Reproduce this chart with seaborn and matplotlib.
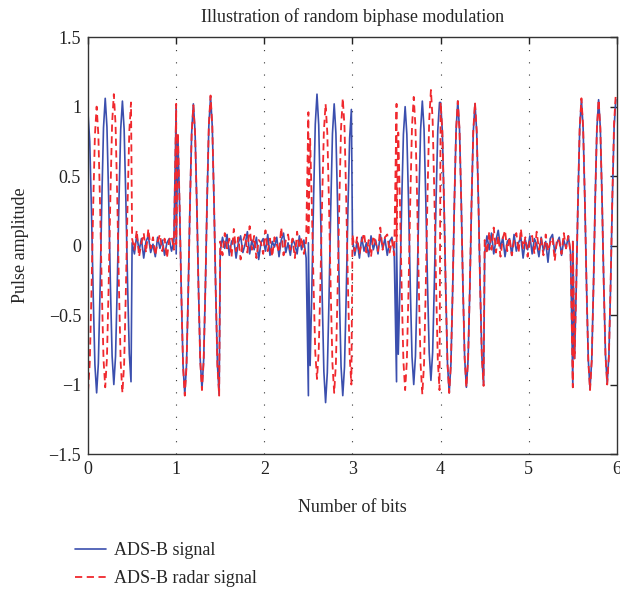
import numpy as np
import pandas as pd
import seaborn as sns
import matplotlib.pyplot as plt

pulse_starts = [0.0, 1.0, 2.5, 3.5, 4.0, 5.5]
noise_spans = [(0.5, 1.0), (1.5, 2.5), (3.0, 3.5), (4.5, 5.5)]

blue_pulse_1 = [0.95, -1.06, 1.06, -1.00, 1.04, -0.98]
blue_pulse_2 = [1.00, -1.07, 1.02, -1.03, 1.07, -1.07]
blue_pulse_3 = [-1.08, 1.09, -1.13, 1.02, -1.08, 0.98]
blue_pulse_4 = [-0.98, 1.00, -1.00, 1.04, -0.97, 1.03]
blue_pulse_5 = [1.03, -1.06, 1.04, -1.02, 1.02, -1.00]
blue_pulse_6 = [-1.02, 1.05, -1.03, 1.05, -0.99, 1.05]

red_pulse_1 = [-1.05, 1.00, -1.02, 1.09, -1.06, 1.03]
red_pulse_2 = [1.02, -1.08, 1.01, -1.04, 1.08, -1.08]
red_pulse_3 = [0.96, -0.96, 1.02, -1.06, 1.06, -1.00]
red_pulse_4 = [1.02, -1.04, 1.07, -1.07, 1.12, -1.04]
red_pulse_5 = [1.03, -1.06, 1.04, -1.02, 1.03, -1.01]
red_pulse_6 = [-1.02, 1.06, -1.04, 1.05, -1.00, 1.09]

# shape of one half-cycle of the carrier, peak (1) to trough (-1), as seen in the plot
carrier_shape = [1.0, 0.8, 0.3, -0.3, -0.8, -1.0]

# noise floor between pulses (estimated)
blue_noise_a = [0.02, -0.06, 0.08, -0.04, 0.05, -0.09, 0.03, 0.07, -0.05, 0.01,
                -0.08, 0.06, -0.02, 0.04, -0.07, 0.02, 0.05, -0.04, 0.03, -0.06]
blue_noise_b = [-0.04, 0.06, -0.02, 0.08, -0.07, 0.03, 0.05, -0.09, 0.02, 0.07,
                -0.05, 0.01, 0.10, -0.06, 0.04, -0.03, 0.06, -0.10, 0.02, 0.05,
                -0.04, 0.08, -0.07, 0.03, -0.01, 0.06, -0.08, 0.04, 0.09, -0.05,
                0.02, -0.07, 0.05, 0.01, -0.06, 0.07, -0.03, 0.04, -0.09, 0.02]
blue_noise_c = [0.05, -0.07, 0.03, -0.09, 0.06, -0.04, 0.02, -0.08, 0.07, -0.03,
                0.04, -0.06, 0.08, -0.02, 0.05, -0.07, 0.03, 0.06, -0.05, 0.02]
blue_noise_d = [-0.05, 0.07, -0.03, 0.09, -0.06, 0.04, 0.11, -0.02, 0.06, -0.08,
                0.03, 0.05, -0.07, 0.08, -0.04, 0.02, 0.06, -0.09, 0.04, -0.03,
                0.07, -0.06, 0.05, 0.01, -0.08, 0.06, -0.04, 0.03, -0.12, 0.05,
                0.08, -0.05, 0.02, 0.06, -0.07, 0.04, -0.02, 0.07, -0.05, 0.03]

red_noise_a = [0.05, -0.03, 0.11, -0.08, 0.02, 0.09, -0.05, 0.12, -0.02, 0.06,
               -0.07, 0.03, 0.08, -0.04, 0.05, -0.09, 0.04, 0.07, -0.03, 0.01]
red_noise_b = [0.03, -0.07, 0.09, -0.02, 0.05, -0.08, 0.12, -0.04, 0.06, -0.10,
               0.03, 0.08, -0.05, 0.14, -0.03, 0.07, -0.09, 0.04, 0.02, -0.06,
               0.11, -0.04, 0.05, -0.08, 0.06, 0.01, -0.05, 0.13, -0.07, 0.04,
               0.08, -0.03, 0.05, -0.09, 0.10, -0.02, 0.06, -0.06, 0.03, 0.07]
red_noise_c = [0.08, -0.04, 0.06, -0.06, 0.03, 0.09, -0.05, 0.04, -0.08, 0.07,
               0.02, -0.04, 0.13, -0.03, 0.06, 0.08, -0.05, 0.04, -0.07, 0.03]
red_noise_d = [0.04, -0.06, 0.10, -0.03, 0.13, -0.05, 0.07, -0.08, 0.05, 0.11,
               -0.04, 0.06, -0.07, 0.03, 0.09, -0.05, 0.12, -0.02, 0.06, -0.08,
               0.04, 0.07, -0.06, 0.10, -0.03, 0.05, -0.07, 0.08, -0.04, 0.02,
               0.06, -0.11, 0.05, 0.03, -0.06, 0.09, -0.02, 0.07, -0.05, 0.04]

PEAK_STEP = 0.0975  # spacing of carrier extrema in bits


def pulse_frame(start, peaks):
    xs, ys = [], []
    shape = np.array(carrier_shape)
    frac = np.linspace(0, 1, len(shape))
    for i in range(len(peaks) - 1):
        a, b = peaks[i], peaks[i + 1]
        mid, half = (a + b) / 2, (a - b) / 2
        pts = slice(0, None) if i == 0 else slice(1, None)
        xs.extend((start + (i + frac) * PEAK_STEP)[pts])
        ys.extend((mid + half * shape)[pts])
    return pd.DataFrame({"bits": xs, "amp": ys})


def build_series(pulses, noises):
    pieces = [pulse_frame(s, p) for s, p in zip(pulse_starts, pulses)]
    for (a, b), vals in zip(noise_spans, noises):
        pieces.append(pd.DataFrame({"bits": np.linspace(a, b, len(vals)), "amp": vals}))
    return pd.concat(pieces).sort_values("bits", kind="stable").reset_index(drop=True)


blue_df = build_series([blue_pulse_1, blue_pulse_2, blue_pulse_3, blue_pulse_4, blue_pulse_5, blue_pulse_6],
                       [blue_noise_a, blue_noise_b, blue_noise_c, blue_noise_d])
red_df = build_series([red_pulse_1, red_pulse_2, red_pulse_3, red_pulse_4, red_pulse_5, red_pulse_6],
                      [red_noise_a, red_noise_b, red_noise_c, red_noise_d])

sns.set_style("white")
plt.rcParams["font.family"] = ["Liberation Serif", "DejaVu Serif"]

fig = plt.figure(figsize=(6.2, 5.9), dpi=100)
ax = fig.add_axes([0.142, 0.2305, 0.853, 0.7065])

sns.lineplot(data=blue_df, x="bits", y="amp", ax=ax, sort=False, estimator=None,
             color="#3b4fae", linewidth=1.2, label="ADS-B signal")
sns.lineplot(data=red_df, x="bits", y="amp", ax=ax, sort=False, estimator=None,
             color="#f0282d", linewidth=1.3, linestyle=(0, (4, 2.5)), label="ADS-B radar signal")

# dotted vertical grid at bit boundaries
for xv in range(1, 6):
    ax.axvline(xv, color="#333333", linewidth=0.8, linestyle=(0, (1, 10)), zorder=0)

ax.set_xlim(0, 6)
ax.set_ylim(-1.5, 1.5)
ax.set_xticks(range(0, 7))
ax.set_yticks(np.arange(-1.5, 1.51, 0.5))
ax.set_yticklabels(["\u22121.5", "\u22121", "\u22120.5", "0", "0.5", "1", "1.5"])
ax.tick_params(direction="in", length=5, width=1, labelsize=13, top=True, right=True,
               colors="#222222", pad=5)
for sp in ax.spines.values():
    sp.set_color("#333333")
    sp.set_linewidth(1.0)

ax.set_title("Illustration of random biphase modulation", fontsize=13, pad=11)
ax.set_xlabel("Number of bits", fontsize=13, labelpad=15)
ax.set_ylabel("Pulse amplitude", fontsize=13, labelpad=14)

ax.get_legend().remove()
handles, labels = ax.get_legend_handles_labels()
fig.legend(handles, labels, loc="upper left", bbox_to_anchor=(0.121, 0.081),
           frameon=False, fontsize=13, handlelength=1.7, handletextpad=0.45,
           labelspacing=0.6, borderaxespad=0, borderpad=0)

fig.savefig("out.png", dpi=100)
